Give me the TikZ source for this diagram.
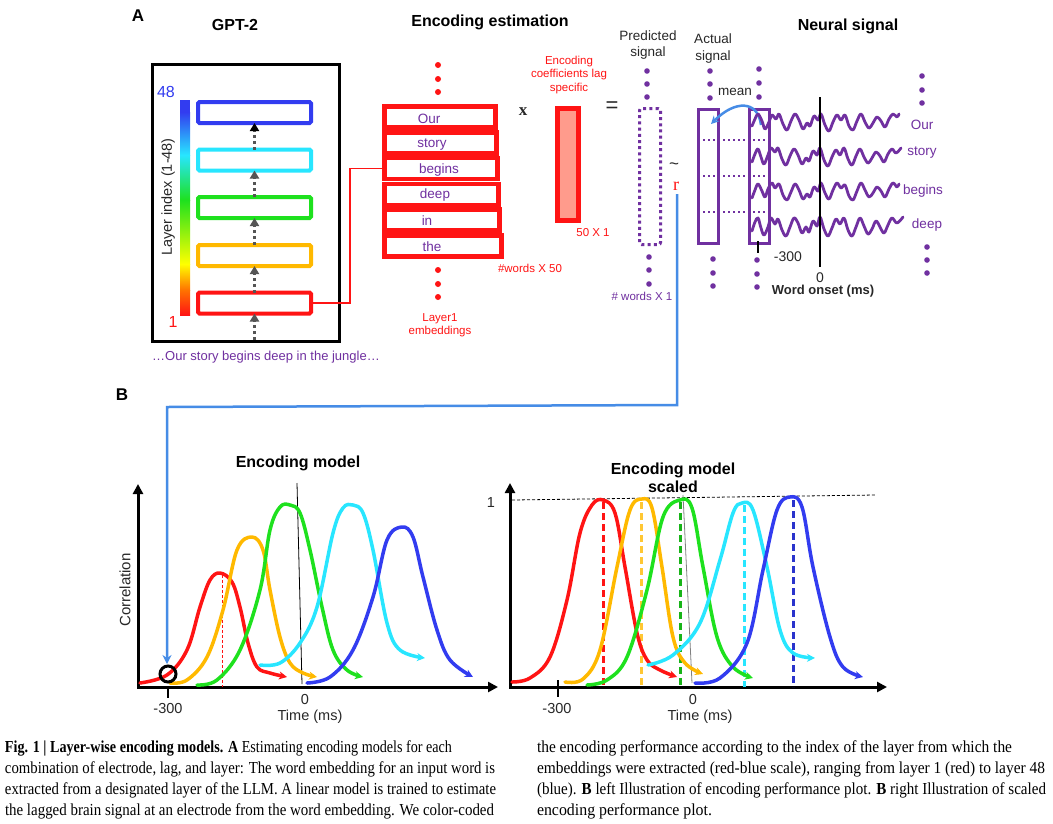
\documentclass[tikz,border=0pt]{standalone}
\usepackage{fontspec}
\setmainfont{Liberation Sans}
\newfontfamily\capfont{Liberation Serif}
\newfontfamily\serfont{Liberation Serif}
\usepackage{graphicx}
\usetikzlibrary{arrows.meta}
\definecolor{cred}{RGB}{255,20,20}
\definecolor{corange}{RGB}{255,185,0}
\definecolor{cgreen}{RGB}{30,225,30}
\definecolor{ccyan}{RGB}{40,230,255}
\definecolor{cblue}{RGB}{50,60,240}
\definecolor{cpurple}{RGB}{112,48,160}
\definecolor{cbl}{RGB}{70,140,230}
\definecolor{csalmon}{RGB}{255,155,140}
\definecolor{cgrey}{RGB}{85,85,85}
\definecolor{ctext}{RGB}{40,40,40}
\newcommand\fsz[1]{\fontsize{#1}{1.2\dimexpr#1pt\relax}\selectfont}
\newcommand\capline[2]{\resizebox{#1}{1.12\height}{#2}}
\begin{document}
\begin{tikzpicture}[x=1pt,y=-1pt,
  every node/.style={inner sep=0pt, outer sep=0pt},
  layerbox/.style={draw=#1, line width=4pt, rounded corners=1.5pt, minimum width=113pt, minimum height=21pt},
  embbox/.style={draw=cred, line width=4.5pt, minimum height=21pt, minimum width=#1},
  dotarrow/.style={draw=cgrey, line width=3pt, dash pattern=on 3pt off 3pt, -{Triangle[length=8pt,width=9pt]}},
  titletext/.style={font=\fsz{16}\bfseries, text=black},
  redsmall/.style={font=\fsz{11.5}, text=cred, align=center},
  purpsmall/.style={font=\fsz{11.5}, text=cpurple},
  word/.style={font=\fsz{13.5}, text=cpurple},
  graytext/.style={font=\fsz{13.5}, text=ctext, align=center},
  pdot/.style={fill=cpurple},
  rdot/.style={fill=cred},
  sigline/.style={draw=cpurple, line width=2.8pt, line join=round, line cap=round},
  curve/.style={draw=#1, line width=3.5pt, line cap=round, line join=round, -{Stealth[length=8pt,width=8pt]}},
  peakdash/.style={draw=#1, line width=3pt, dash pattern=on 7pt off 4pt},
  axisline/.style={draw=black, line width=3pt, {Triangle[length=10pt,width=10pt]}-{Triangle[length=10pt,width=10pt]}},
  axtext/.style={font=\fsz{14.5}, text=ctext},
  capt/.style={anchor=base west, font=\capfont\fsz{15}},
  blueline/.style={draw=cbl, line width=2.5pt}
]
\useasboundingbox (0,0) rectangle (1053,823);
\fill[white] (0,0) rectangle (1053,823);

%% ---------- Panel A titles
\node[font=\fsz{17}\bfseries] (lblA) at (138,16) {A};
\node[titletext] (gpt) at (235,25) {GPT-2};
\node[titletext] (enctitle) at (490,22) {Encoding estimation};
\node[titletext] (neural) at (848,26) {Neural signal};

%% ---------- GPT-2 block
\node[draw=black, line width=3pt, minimum width=187pt, minimum height=277pt] (frame) at (246,203) {};
\shade[bottom color=cred, top color=orange!90!red] (180,315) rectangle (190,290);
\shade[bottom color=orange!90!red, top color=yellow] (180,290) rectangle (190,264);
\shade[bottom color=yellow, top color=cgreen] (180,264) rectangle (190,200);
\shade[bottom color=cgreen, top color=ccyan] (180,200) rectangle (190,155);
\shade[bottom color=ccyan, top color=cblue] (180,155) rectangle (190,112);
\fill[cblue] (180,112) rectangle (190,100);
\node[font=\fsz{16}, text=cblue] (n48) at (166,92) {48};
\node[font=\fsz{16}, text=cred] (n1) at (173,322) {1};
\node[font=\fsz{14.5}, text=ctext, rotate=90] (lidx) at (168,197) {Layer index (1-48)};

\node[layerbox=cblue] (L5) at (254.5,112.5) {};
\node[layerbox=ccyan] (L4) at (254.5,160) {};
\node[layerbox=cgreen] (L3) at (254.5,207.5) {};
\node[layerbox=corange] (L2) at (254.5,255.5) {};
\node[layerbox=cred] (L1) at (254.5,303) {};
\coordinate (inp) at (254.5,340);
\draw[dotarrow] (inp) -- (L1.south);
\draw[dotarrow] (L1.north) -- (L2.south);
\draw[dotarrow] (L2.north) -- (L3.south);
\draw[dotarrow] (L3.north) -- (L4.south);
\draw[dotarrow, -{Triangle[length=8pt,width=9pt,color=black]}] (L4.north) -- (L5.south);

\node[font=\fsz{13}, text=cpurple] (sentence) at (266,357) {\dots Our story begins deep in the jungle\dots};

%% ---------- Embedding matrix
\foreach \yy in {65,79,92,270,284,297} \fill[rdot] (438,\yy) circle (3pt);
\node[embbox=111pt, anchor=west] (e1) at (384.25,117) {};
\node[embbox=112pt, anchor=west] (e2) at (384.25,142.8) {};
\node[embbox=113pt, anchor=west] (e3) at (384.25,168.6) {};
\node[embbox=114pt, anchor=west] (e4) at (384.25,194.4) {};
\node[embbox=115pt, anchor=west] (e5) at (384.25,220.2) {};
\node[embbox=117pt, anchor=west] (e6) at (384.25,246) {};
\node[word] (w1) at (429,119) {Our};
\node[word] (w2) at (432,145) {story};
\node[word] (w3) at (439,170) {begins};
\node[word] (w4) at (435,195) {deep};
\node[word] (w5) at (427,221) {in};
\node[word] (w6) at (432,247) {the};
\draw[draw=cred, line width=1.5pt] (L1.east) -- ++(39,0) |- (e3.west);
\node[redsmall, font=\fsz{11.5}\linespread{1}\selectfont] (lay1) at (440,325) {Layer1\\[-0.5pt]embeddings};
\node[redsmall] (nw50) at (530,268) {\#words X 50};

\node[font=\serfont\fsz{17}\bfseries, text=ctext] (times) at (523,112) {x};
\node[draw=cred, fill=csalmon, line width=5pt, minimum width=21pt, minimum height=112pt] (coef) at (568,164.5) {};
\node[redsmall] (coeflbl) at (569,75) {Encoding\\[-0.5pt]coefficients lag\\[-0.5pt]specific};
\node[redsmall] (n501) at (593,233) {50 X 1};
\node[font=\fsz{22}, text=ctext] (eq) at (612,107) {=};

%% ---------- Predicted signal
\node[graytext] (predlbl) at (648,45) {Predicted\\[-0.5pt]signal};
\foreach \yy in {71,84,97} \fill[pdot] (647,\yy) circle (2.8pt);
\foreach \yy in {257,270,284} \fill[pdot] (649,\yy) circle (2.8pt);
\node[draw=cpurple, line width=3pt, dash pattern=on 3pt off 3.2pt, rounded corners=2pt, minimum width=21pt, minimum height=136pt] (pred) at (650,176.5) {};
\node[purpsmall] (nw1) at (642,296) {\# words X 1};
\node[font=\fsz{17}, text=ctext] (tilde) at (674,166) {\textasciitilde};
\node[font=\serfont\fsz{18}, text=cred] (rr) at (676,186) {r};

%% ---------- Actual signal
\node[graytext] (actlbl) at (713,48.5) {Actual\\[0.5pt]signal};
\foreach \yy in {71,84,98} \fill[pdot] (710,\yy) circle (2.8pt);
\foreach \yy in {259,273,286} \fill[pdot] (713,\yy) circle (2.8pt);
\foreach \yy in {69,83,97} \fill[pdot] (759,\yy) circle (2.8pt);
\foreach \yy in {260,274,287} \fill[pdot] (757,\yy) circle (2.8pt);
\node[draw=cpurple, line width=3pt, minimum width=20pt, minimum height=134pt] (act1) at (708.5,176.5) {};
\node[draw=cpurple, line width=3pt, minimum width=20pt, minimum height=134pt] (act2) at (759.5,176.5) {};
\foreach \yy in {140,176,212} \draw[draw=cpurple, line width=2pt, dash pattern=on 2pt off 3pt] (698,\yy) -- (769,\yy);
\node[graytext] (meanlbl) at (735,92) {mean};
\coordinate (meanS) at (761,125);
\coordinate (meanE) at (711,124);
\draw[draw=cbl, line width=2.5pt, -{Stealth[length=8pt,width=8pt]}] (meanS) .. controls (758,100) and (735,100) .. (meanE);

%% ---------- Neural signal traces
\draw[line width=2pt] (758,241) -- (758,253);
\node[font=\fsz{14}, text=ctext] (m300a) at (788,257) {-300};
\node[font=\fsz{14}, text=ctext] (zeroa) at (820,278) {0};
\node[font=\fsz{13}\bfseries, text=ctext] (wonset) at (823,291) {Word onset (ms)};
\begin{scope}[shift={(752,123)}]
\draw[sigline] plot[smooth, tension=0.6] coordinates {(0,3) (3,-4) (6,-9) (10,-2) (13,6) (17,-1) (20,-8) (24,-4) (27,-9) (31,1) (35,7) (39,-2) (43,-9) (47,-3) (51,6) (55,0) (58,3) (62,-7) (66,-3) (69,-9) (73,2) (77,8) (81,-1) (85,-8) (89,-3) (93,-8) (97,3) (101,7) (105,-2) (109,-9) (113,-1) (117,5) (121,0) (125,-6) (129,-2) (133,4) (137,-4) (141,-9) (145,-6) (147,-9)};
\end{scope}
\begin{scope}[shift={(752,157)}]
\draw[sigline] plot[smooth, tension=0.6] coordinates {(0,5) (3,-3) (6,-8) (9,0) (12,7) (16,-2) (19,-9) (23,-5) (26,-9) (30,2) (34,8) (38,-1) (42,-8) (46,-2) (50,7) (54,1) (57,4) (61,-6) (65,-2) (68,-9) (72,3) (76,9) (80,0) (84,-7) (88,-2) (92,-9) (96,2) (100,8) (104,-1) (108,-8) (112,0) (116,6) (120,1) (124,-5) (128,-1) (132,5) (136,-3) (140,-8) (144,-4) (149,-9)};
\end{scope}
\begin{scope}[shift={(752,192)}]
\draw[sigline] plot[smooth, tension=0.6] coordinates {(0,6) (3,-2) (6,-8) (10,-1) (13,5) (16,-3) (20,-9) (23,-4) (27,-8) (31,3) (35,8) (39,0) (43,-8) (47,-2) (51,7) (55,2) (58,5) (62,-5) (66,-1) (69,-9) (73,1) (77,7) (81,-2) (85,-9) (89,-4) (93,-7) (97,4) (101,8) (105,-1) (109,-9) (113,-2) (117,5) (121,1) (125,-5) (129,-1) (133,5) (137,-3) (141,-9) (145,-5) (147,-8)};
\end{scope}
\begin{scope}[shift={(752,227)}]
\draw[sigline] plot[smooth, tension=0.6] coordinates {(0,4) (3,-5) (6,-9) (9,1) (12,8) (16,0) (19,-9) (23,-3) (26,-8) (30,3) (34,9) (38,0) (42,-9) (46,-4) (50,6) (54,0) (57,5) (61,-6) (65,-1) (68,-10) (72,2) (76,9) (80,1) (84,-8) (88,-3) (92,-9) (96,3) (100,9) (104,0) (108,-9) (112,-1) (116,7) (120,2) (124,-6) (128,0) (132,6) (136,-2) (140,-9) (145,-4) (151,-10)};
\end{scope}
\draw[line width=2pt] (820,97) -- (820,267);
\node[word] (s1) at (922,125) {Our};
\node[word] (s2) at (922,153) {story};
\node[word] (s3) at (923,191) {begins};
\node[word] (s4) at (927,225) {deep};
\foreach \yy in {76,90,103} \fill[pdot] (922,\yy) circle (2.8pt);
\foreach \yy in {247,260,273} \fill[pdot] (927,\yy) circle (2.8pt);

%% ---------- Panel B
\node[font=\fsz{17}\bfseries] (lblB) at (122,395) {B};

% left plot
\coordinate (Y1) at (138,484);
\coordinate (O1) at (138,687);
\coordinate (X1) at (498,687);
\draw[axisline] (Y1) -- (O1) -- (X1);
\node[font=\fsz{15}, text=ctext, rotate=90] (corr) at (125,590) {Correlation};
\node[titletext] (encm) at (298,463) {Encoding model};
\draw[line width=2.5pt] (168,687) -- (168,698);
\node[axtext] (m300b) at (168,708) {-300};
\node[axtext] (zerob) at (305,699) {0};
\node[axtext] (timeb) at (310,717) {Time (ms)};
\draw[line width=0.8pt] (297,483) -- (302,684);
\draw[draw=cred, line width=1pt, dash pattern=on 3pt off 2pt] (222,575) -- (222,687);
\draw[curve=cred] plot[smooth, tension=0.6] coordinates {(140,683) (167,675) (187,650) (200,607) (210,580) (220,573) (232,582) (240,607) (248,643) (257,667) (270,673) (287,677)};
\draw[curve=corange] plot[smooth, tension=0.6] coordinates {(170,683) (187,680) (207,657) (223,610) (237,550) (252,537) (263,550) (270,590) (280,637) (290,663) (303,673) (317,677)};
\draw[curve=cgreen] plot[smooth, tension=0.6] coordinates {(197,685) (217,680) (240,650) (260,590) (270,530) (280,507) (290,505) (300,513) (310,550) (322,607) (333,650) (347,670) (363,677)};
\draw[curve=ccyan] plot[smooth, tension=0.6] coordinates {(260,665) (280,663) (300,643) (317,607) (333,533) (343,508) (353,505) (363,513) (373,550) (387,623) (400,650) (425,658)};
\draw[curve=cblue] plot[smooth, tension=0.6] coordinates {(307,683) (330,677) (353,650) (373,597) (387,540) (402,527) (413,537) (423,577) (437,630) (450,660) (473,677)};
\node[draw=black, line width=3pt, circle, minimum size=16pt] (circ) at (168,674) {};

% blue connector from r to circle
\coordinate (bturnR) at (677,405);
\coordinate (bturnL) at (167,407);
\draw[blueline, -{Stealth[length=9pt,width=9pt]}, shorten >=2pt] (rr.south) ++(1,4) -- (bturnR) -- (bturnL) -- (bturnL |- circ.north);

% right plot
\coordinate (Y2) at (510,483);
\coordinate (O2) at (510,687);
\coordinate (X2) at (887,687);
\draw[axisline] (Y2) -- (O2) -- (X2);
\node[titletext, align=center, font=\fsz{16}\bfseries\linespread{0.95}\selectfont] (encms) at (673,477.5) {Encoding model\\scaled};
\node[axtext] (one) at (491,503) {1};
\draw[line width=0.8pt, dash pattern=on 3pt off 2pt] (512,500) -- (875,495);
\draw[line width=2.5pt] (558,680) -- (558,697);
\node[axtext] (m300c) at (557,708) {-300};
\node[axtext] (zeroc) at (693,699) {0};
\node[axtext] (timec) at (700,717) {Time (ms)};
\draw[draw=gray, line width=0.8pt] (683,495) -- (692,683);
\draw[peakdash=cred] (603,502) -- (603,687);
\draw[peakdash=corange!80!white] (641,502) -- (641,687);
\draw[peakdash=cgreen!80!black] (680,502) -- (680,687);
\draw[peakdash=ccyan] (744,505) -- (744,687);
\draw[peakdash=cblue!85!black] (793,500) -- (793,687);
\draw[curve=cred] plot[smooth, tension=0.6] coordinates {(512,682) (530,678) (550,657) (567,600) (580,533) (592,505) (603,500) (615,513) (625,567) (637,633) (647,660) (660,670) (677,677)};
\draw[curve=corange] plot[smooth, tension=0.6] coordinates {(565,682) (583,679) (600,650) (617,567) (630,510) (642,499) (652,508) (662,567) (673,637) (685,663) (703,674)};
\draw[curve=cgreen] plot[smooth, tension=0.6] coordinates {(587,685) (607,680) (627,657) (647,590) (663,517) (680,500) (692,508) (703,567) (717,637) (733,667) (753,678)};
\draw[curve=ccyan] plot[smooth, tension=0.6] coordinates {(648,665) (673,655) (700,623) (720,560) (733,513) (742,503) (753,510) (767,567) (780,630) (793,653) (815,658)};
\draw[curve=cblue] plot[smooth, tension=0.6] coordinates {(695,683) (720,678) (747,643) (763,570) (777,510) (790,497) (802,507) (813,567) (830,637) (843,667) (863,677)};

%% ---------- Caption
\node[capt] (c1) at (5,752) {\capline{447pt}{\textbf{Fig. 1 | Layer-wise encoding models. A} Estimating encoding models for each}};
\node[capt] (c2) at (5,773) {\capline{490pt}{combination of electrode, lag, and layer: The word embedding for an input word is}};
\node[capt] (c3) at (5,794) {\capline{491pt}{extracted from a designated layer of the LLM. A linear model is trained to estimate}};
\node[capt] (c4) at (5,815) {\capline{489pt}{the lagged brain signal at an electrode from the word embedding. We color-coded}};
\node[capt] (c5) at (537,752) {\capline{475pt}{the encoding performance according to the index of the layer from which the}};
\node[capt] (c6) at (537,773) {\capline{508pt}{embeddings were extracted (red-blue scale), ranging from layer 1 (red) to layer 48}};
\node[capt] (c7) at (537,794) {\capline{509pt}{(blue). \textbf{B} left Illustration of encoding performance plot. \textbf{B} right Illustration of scaled}};
\node[capt] (c8) at (537,815) {\capline{175pt}{encoding performance plot.}};
\end{tikzpicture}
\end{document}
